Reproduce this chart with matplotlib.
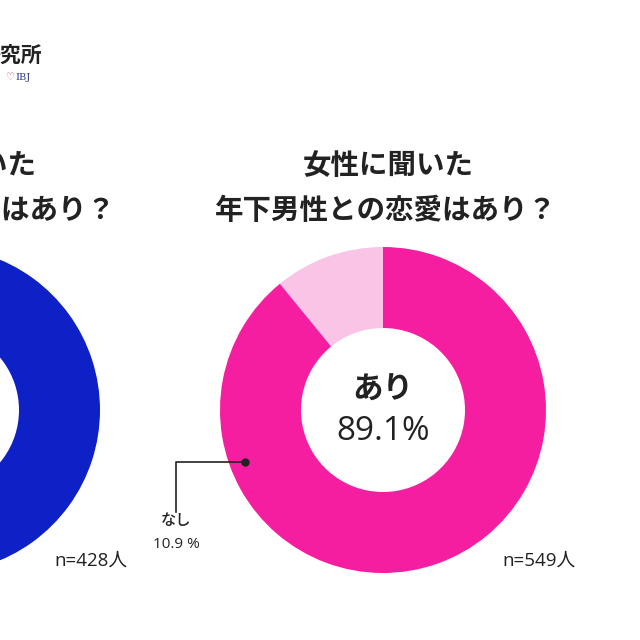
import matplotlib.pyplot as plt

plt.rcParams['font.family'] = ['Noto Sans CJK JP', 'DejaVu Sans']

# data
labels = ["なし", "あり"]
women_values = [10.9, 89.1]
men_values = [20.0, 80.0]   # left chart is cropped; only the large part shows
women_n = 549
men_n = 428

women_colors = ["#f9c4e6", "#f51ea0"]
men_colors = ["#aab4f0", "#0e21c6"]

W, H = 640, 640
fig = plt.figure(figsize=(6.4, 6.4), dpi=100)
ax = fig.add_axes([0, 0, 1, 1])


def py(y):
    # pixel row (from top) -> data y
    return H - y


r_out, r_in = 163, 82
cy = 410
num_font = ['Open Sans', 'Noto Sans CJK JP']

# left donut (mostly off canvas)
ax.pie(men_values, colors=men_colors, center=(-63, py(cy)), radius=r_out,
       startangle=90, counterclock=True,
       wedgeprops=dict(width=r_out - r_in, linewidth=0))
# right donut
ax.pie(women_values, colors=women_colors, center=(383, py(cy)), radius=r_out,
       startangle=90, counterclock=True,
       wedgeprops=dict(width=r_out - r_in, linewidth=0))

ax.set_xlim(0, W)
ax.set_ylim(0, H)
ax.set_aspect('auto')
ax.set_axis_off()

# titles
title_kw = dict(ha='center', va='center', fontsize=20.5, fontweight='bold', color='#222222')
ax.text(-49, py(166), "男性に聞いた", **title_kw)
ax.text(-55, py(211), "年上女性との恋愛はあり？", **title_kw)
ax.text(388, py(166), "女性に聞いた", **title_kw)
ax.text(386, py(211), "年下男性との恋愛はあり？", **title_kw)

# center labels
ax.text(383, py(390), labels[1], ha='center', va='center', fontsize=22,
        fontweight='bold', color='#222222')
ax.text(383, py(432), f"{women_values[1]}%", ha='center', va='center',
        fontsize=24, color='#222222', family=num_font)

# leader line for なし
ax.plot([245, 176, 176], [py(462), py(462), py(512)], color='#222222', lw=1.2)
ax.plot([245], [py(462)], 'o', color='#222222', ms=5)
ax.text(176, py(521), labels[0], ha='center', va='center', fontsize=11,
        fontweight='medium', color='#222222')
ax.text(176, py(544), f"{women_values[0]} %", ha='center', va='center',
        fontsize=11, color='#222222', family=num_font)

# sample sizes
ax.text(91, py(561), f"n={men_n}人", ha='center', va='center', fontsize=13.5,
        color='#222222', family=num_font)
ax.text(539, py(561), f"n={women_n}人", ha='center', va='center', fontsize=13.5,
        color='#222222', family=num_font)

# logo fragment
ax.text(42, py(55), "研究所", ha='right', va='center', fontsize=15,
        fontweight='bold', color='#222222')
ax.text(5, py(77), "♡", ha='left', va='center', fontsize=7, color='#e05a8a',
        family=['DejaVu Sans'])
ax.text(15, py(77), "IBJ", ha='left', va='center', fontsize=7, color='#2a3a8c',
        family=['DejaVu Serif'])

fig.savefig("out.png", dpi=100, facecolor='white')
